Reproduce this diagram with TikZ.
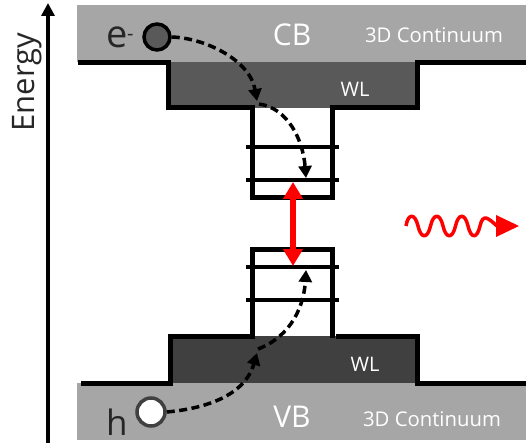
\documentclass[tikz,border=0pt]{standalone}
\usepackage{fontspec}
\setmainfont{Open Sans}
\usetikzlibrary{arrows.meta}
\definecolor{band}{HTML}{A6A6A6}
\definecolor{wlc}{HTML}{595959}
\definecolor{wlv}{HTML}{404040}
\tikzset{
 px/.style={x=1pt,y=-1pt},
 well/.style={line width=5pt,line join=miter},
 level/.style={line width=4.5pt},
 hop/.style={line width=3.5pt,dash pattern=on 8pt off 4.5pt,-{Triangle[length=12pt,width=13pt]}},
 lab/.style={text=white,inner sep=0pt,font=\fontsize{20.3}{20}\selectfont},
 wllab/.style={text=white,inner sep=0pt,font=\fontsize{20}{20}\selectfont},
 blab/.style={text=white,inner sep=0pt,font=\fontsize{30}{30}\selectfont},
 dark/.style={text=black!85,inner sep=0pt},
}
\begin{document}
\begin{tikzpicture}[px]
\useasboundingbox (0,0) rectangle (526,443);
\fill[band] (77,5) rectangle (526,62);
\fill[band] (77,383) rectangle (526,440);
\fill[wlc] (168,62) rectangle (417,108);
\fill[wlv] (170,336) rectangle (417,383);
% energy axis
\coordinate (eb) at (48,443); \coordinate (et) at (48,3);
\draw[line width=4.5pt,-{Triangle[length=13pt,width=13pt]}] (eb) -- (et);
\node[dark,rotate=90,font=\fontsize{31}{31}\selectfont] (energy) at (27,82) {Energy};
% conduction band edge
\draw[well] (78,63) -- (168,63) -- (168,108) -- (252,108) -- (252,198) -- (332,198) -- (332,108) -- (417,108) -- (417,63) -- (526,63);
\draw[level] (246,147) -- (339,147);
\draw[level] (246,180) -- (339,180);
% valence band edge
\draw[well] (81,383) -- (170,383) -- (170,336) -- (252,336) -- (252,249) -- (332,249) -- (332,338);
\draw[well] (336,336) -- (417,336) -- (417,383) -- (526,383);
\draw[level] (246,267) -- (339,267);
\draw[level] (246,300) -- (339,300);
% labels
\node[blab] (cb) at (292,35) {CB};
\node[blab] (vb) at (292,417) {VB};
\node[lab] (c1) at (434,35) {3D Continuum};
\node[lab] (c2) at (432,419) {3D Continuum};
\node[wllab] (w1) at (355,89) {WL};
\node[wllab] (w2) at (365,364) {WL};
\node[dark,font=\fontsize{38}{38}\selectfont,anchor=base west] (e) at (106,48) {e\raisebox{7pt}{\fontsize{20}{20}\selectfont\kern-0.5pt -}};
\node[dark,font=\fontsize{35}{35}\selectfont,anchor=base west] (h) at (106,435) {h};
% carriers
\node[circle,draw=black,line width=3.5pt,fill=wlc,minimum size=26pt,inner sep=0pt] (ec) at (157,37) {};
\node[circle,draw=wlv,line width=3.5pt,fill=white,minimum size=28pt,inner sep=0pt] (hc) at (151,412) {};
% hops
\coordinate (e1) at (257,101); \coordinate (e2) at (306,178);
\coordinate (e3) at (259,104); \coordinate (h3) at (258,349);
\coordinate (h1) at (257,353); \coordinate (h2) at (306,270);
\draw[hop] (ec.east) .. controls (205,38) and (250,60) .. (e1);
\draw[hop] (e3) .. controls (288,108) and (303,140) .. (e2);
\draw[hop] (hc.east) .. controls (200,409) and (244,398) .. (h1);
\draw[hop] (h3) .. controls (292,336) and (304,305) .. (h2);
% red transition
\coordinate (ra) at (293,182); \coordinate (rb) at (293,266);
\draw[red,line width=5.5pt,{Triangle[length=17pt,width=19pt]}-{Triangle[length=17pt,width=19pt]}] (ra) -- (rb);
% photon
\coordinate (pa) at (406,226); \coordinate (pb) at (497,226);
\coordinate (pc) at (519,226);
\draw[red,line width=3.5pt,line join=round] (pa)
 .. controls (408,213) and (415,213) .. (418,226)
 .. controls (421,239) and (427.5,239) .. (430.5,226)
 .. controls (433.5,213) and (440,213) .. (443,226)
 .. controls (446,239) and (452.5,239) .. (455.5,226)
 .. controls (458.5,213) and (465,213) .. (468,226)
 .. controls (471,239) and (477,239) .. (480,226)
 .. controls (483,213) and (488,218) .. (pb);
\fill[red] (pc) -- (496,215) -- (496,237) -- cycle;
\end{tikzpicture}
\end{document}
